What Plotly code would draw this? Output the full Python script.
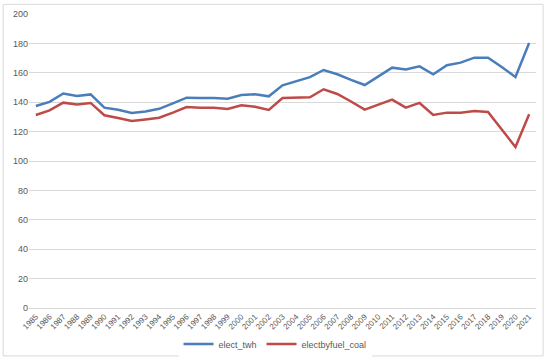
import plotly.graph_objects as go

years = [str(y) for y in range(1985, 2022)]
elect_twh = [137.4, 140.2, 145.9, 144.3, 145.3, 136.3, 134.8, 132.7, 133.7, 135.5,
             139.2, 143.1, 142.9, 142.9, 142.3, 144.9, 145.4, 144.0, 151.5, 154.2,
             157.0, 161.9, 159.0, 155.2, 151.7, 157.6, 163.5, 162.2, 164.4, 159.0,
             165.1, 166.9, 170.3, 170.2, 164.0, 157.1, 180.3]
electbyfuel_coal = [131.3, 134.4, 139.7, 138.4, 139.5, 131.1, 129.2, 127.2, 128.3, 129.4,
                    132.9, 136.7, 136.3, 136.2, 135.4, 137.9, 136.9, 134.7, 142.9, 143.0,
                    143.3, 148.8, 145.6, 140.5, 135.0, 138.4, 141.8, 136.3, 139.5, 131.3,
                    132.9, 132.9, 134.0, 133.3, 121.0, 109.5, 131.8]

fig = go.Figure()
fig.add_trace(go.Scatter(x=years, y=elect_twh, mode="lines", name="elect_twh",
                         line=dict(color="#4a7ebb", width=2.5)))
fig.add_trace(go.Scatter(x=years, y=electbyfuel_coal, mode="lines", name="electbyfuel_coal",
                         line=dict(color="#be4b48", width=2.5)))

grey = "#595959"
fig.update_layout(
    width=550, height=361,
    margin=dict(l=29, r=14, t=14, b=53, autoexpand=False),
    paper_bgcolor="white", plot_bgcolor="white",
    font=dict(family="Liberation Sans, Arial, sans-serif", size=9, color=grey),
    showlegend=True,
    legend=dict(orientation="h", x=0.5, xanchor="center", xref="container",
                y=0.047, yanchor="middle", yref="container", itemwidth=30,
                font=dict(size=9, color=grey), tracegroupgap=0),
    xaxis=dict(type="category", range=[-0.5, 36.5], tickangle=-45, showgrid=False,
               showline=True, linecolor="#d9d9d9", ticks="", automargin=False,
               tickfont=dict(size=8, color=grey)),
    yaxis=dict(range=[0, 200], dtick=20, showgrid=True, gridcolor="#d9d9d9",
               zeroline=True, zerolinecolor="#d9d9d9", ticks="", automargin=False,
               tickfont=dict(size=9, color=grey)),
    shapes=[dict(type="rect", xref="paper", yref="paper",
                 x0=-0.051, x1=1.014, y0=-0.163, y1=1.033,
                 line=dict(color="#d9d9d9", width=1), fillcolor="rgba(0,0,0,0)")],
)

fig.write_html("out.html", config={"displayModeBar": False},
               post_script="document.body.style.margin='0';document.body.style.padding='0';")
